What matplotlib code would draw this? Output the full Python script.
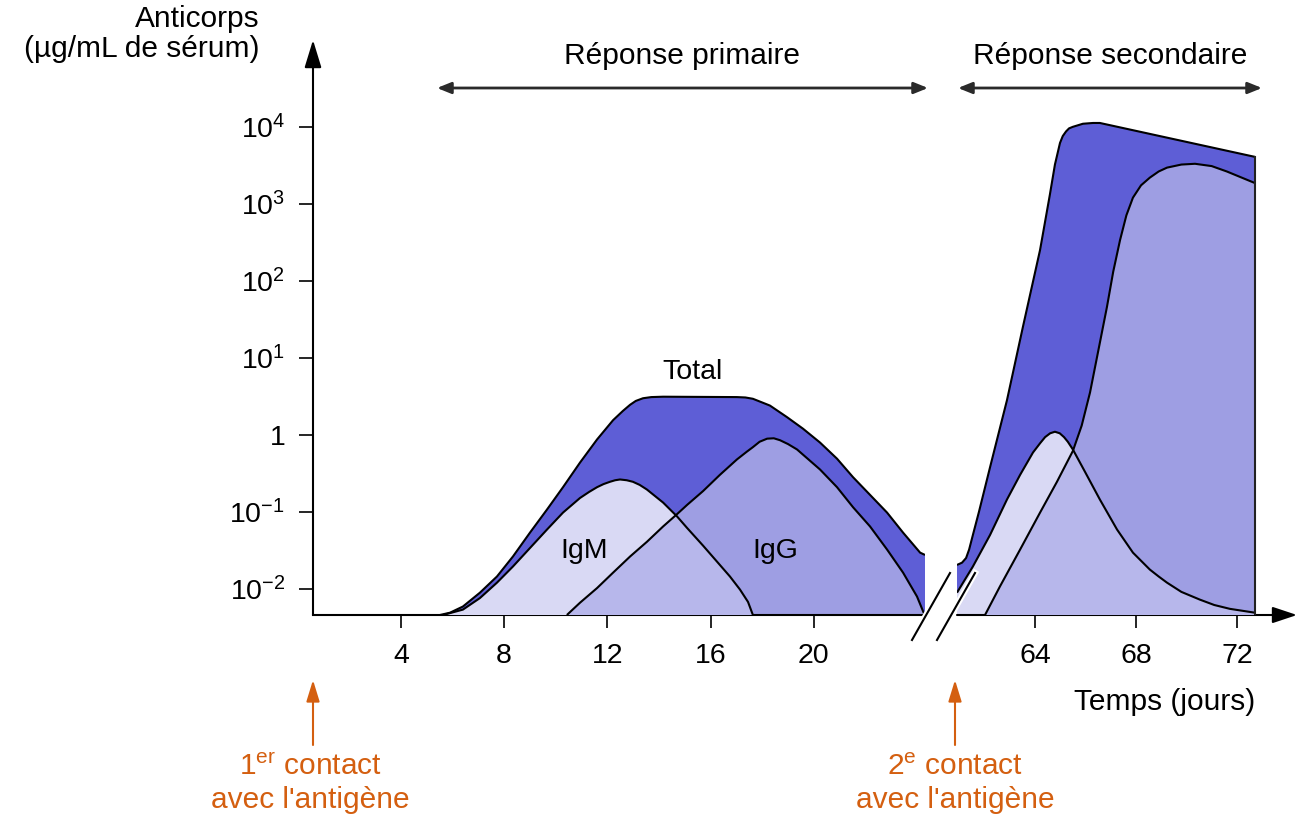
import numpy as np
import matplotlib
matplotlib.use("Agg")
import matplotlib.pyplot as plt
import matplotlib.ticker as mticker
from matplotlib.patches import FancyArrowPatch
from matplotlib.lines import Line2D

plt.rcParams['font.family'] = ['Liberation Sans', 'DejaVu Sans']
plt.rcParams['mathtext.fontset'] = 'custom'
plt.rcParams['mathtext.rm'] = 'Liberation Sans'
plt.rcParams['mathtext.it'] = 'Liberation Sans:italic'
plt.rcParams['mathtext.bf'] = 'Liberation Sans:bold'

# ---------------- data (day, log10 of µg/mL) ----------------
# primary response
prim_total_day = [5.51, 5.90, 6.40, 7.06, 7.72, 8.34, 9.00, 9.66, 10.28, 10.94, 11.60, 12.22,
                  12.60, 12.88, 13.10, 13.38, 13.70, 14.16, 17.02, 17.35, 17.64, 18.03, 18.30,
                  18.96, 19.58, 20.24, 20.90, 21.52, 22.18, 22.84, 23.46, 24.12, 24.31]
prim_total_log = [-2.34, -2.31, -2.23, -2.05, -1.84, -1.58, -1.27, -0.97, -0.68, -0.36, -0.06, 0.19,
                  0.31, 0.39, 0.44, 0.475, 0.49, 0.495, 0.49, 0.485, 0.468, 0.416, 0.38,
                  0.23, 0.08, -0.10, -0.31, -0.55, -0.78, -1.01, -1.27, -1.53, -1.56]

prim_igm_day = [5.63, 6.40, 7.06, 7.72, 8.34, 9.00, 9.66, 10.28, 10.94, 11.30, 11.60, 11.85, 12.10,
                12.30, 12.49, 12.75, 12.99, 13.25, 13.53, 14.16, 14.70, 15.09, 15.71, 16.36,
                16.75, 17.14, 17.45, 17.64]
prim_igm_log = [-2.34, -2.27, -2.12, -1.92, -1.71, -1.47, -1.23, -1.01, -0.82, -0.74, -0.68, -0.64,
                -0.61, -0.59, -0.58, -0.59, -0.61, -0.65, -0.71, -0.88, -1.06, -1.21, -1.44,
                -1.69, -1.84, -2.01, -2.17, -2.34]

prim_igg_day = [10.43, 10.94, 11.60, 12.22, 12.88, 13.53, 14.16, 14.70, 15.09, 15.71, 16.36, 17.02,
                17.40, 17.64, 17.90, 18.19, 18.45, 18.69, 19.00, 19.35, 20.24, 20.90, 21.52,
                22.18, 22.84, 23.46, 24.00, 24.27]
prim_igg_log = [-2.34, -2.18, -1.99, -1.79, -1.58, -1.39, -1.19, -1.03, -0.91, -0.73, -0.52, -0.32,
                -0.22, -0.16, -0.09, -0.05, -0.045, -0.07, -0.12, -0.19, -0.45, -0.68, -0.94,
                -1.19, -1.49, -1.79, -2.10, -2.32]

# secondary response
sec_total_day = [60.91, 61.11, 61.27, 61.39, 61.54, 61.78, 62.22, 62.89, 63.52, 64.20, 64.59,
                 64.79, 64.99, 65.10, 65.23, 65.35, 65.50, 65.90, 66.30, 66.57, 72.71]
sec_total_log = [-1.69, -1.66, -1.60, -1.49, -1.30, -1.00, -0.42, 0.45, 1.40, 2.40, 3.12,
                 3.51, 3.79, 3.88, 3.94, 3.98, 4.00, 4.04, 4.05, 4.05, 3.61]

sec_igm_day = [60.91, 61.54, 62.22, 62.89, 63.41, 63.92, 64.20, 64.40, 64.60, 64.79, 64.98, 65.15,
               65.30, 65.50, 65.98, 66.57, 67.25, 67.88, 68.55, 68.90, 69.23, 69.80, 70.53,
               71.10, 71.72, 72.71]
sec_igm_log = [-2.05, -1.71, -1.30, -0.84, -0.52, -0.23, -0.11, -0.03, 0.02, 0.04, 0.02, -0.03,
               -0.09, -0.19, -0.48, -0.84, -1.23, -1.53, -1.75, -1.84, -1.92, -2.04, -2.14,
               -2.21, -2.26, -2.31]

sec_igg_day = [62.02, 62.61, 63.41, 64.20, 64.87, 65.50, 65.85, 66.18, 66.50, 66.85, 67.10, 67.37,
               67.62, 67.88, 68.20, 68.55, 68.90, 69.23, 69.80, 70.34, 71.00, 71.60, 72.71]
sec_igg_log = [-2.34, -1.97, -1.49, -1.01, -0.61, -0.21, 0.12, 0.55, 1.08, 1.66, 2.12, 2.53,
               2.85, 3.08, 3.24, 3.34, 3.42, 3.47, 3.51, 3.52, 3.49, 3.42, 3.27]

x_ticks_primary = [4, 8, 12, 16, 20]
x_ticks_secondary = [64, 68, 72]
y_tick_exponents = [-2, -1, 0, 1, 2, 3, 4]
y_tick_labels = [r'$\mathregular{10^{-2}}$', r'$\mathregular{10^{-1}}$', '1',
                 r'$\mathregular{10^{1}}$', r'$\mathregular{10^{2}}$',
                 r'$\mathregular{10^{3}}$', r'$\mathregular{10^{4}}$']

# ---------------- style ----------------
C_TOTAL = '#5E5ED6'
C_IGG = '#9E9EE3'
C_IGM = '#D9D9F4'
C_OVER = '#B7B7EB'
ORANGE = '#D45F10'
FS = 21.5
LW = 1.5

W, H = 1299, 818
fig = plt.figure(figsize=(W / 100, H / 100), dpi=100)


def fx(x):
    return x / W


def fy(y):
    return 1 - y / H


Y_TOP_PX = 40
LOG_BOTTOM = -2.34
LOG_TOP = LOG_BOTTOM + (615 - Y_TOP_PX) / 77.0
BASE = 10 ** LOG_BOTTOM

axL = fig.add_axes([fx(313), fy(615), (925 - 313) / W, (615 - Y_TOP_PX) / H])
axR = fig.add_axes([fx(957), fy(615), (1297 - 957) / W, (615 - Y_TOP_PX) / H])

for ax in (axL, axR):
    ax.set_yscale('log')
    ax.set_ylim(10 ** LOG_BOTTOM, 10 ** LOG_TOP)
    ax.patch.set_alpha(0)
    for s in ('top', 'right', 'left'):
        ax.spines[s].set_visible(False)
    ax.yaxis.set_minor_locator(mticker.NullLocator())
    ax.xaxis.set_minor_locator(mticker.NullLocator())
    ax.tick_params(axis='x', direction='out', length=9.5, width=1.2, labelsize=FS - 1, pad=11)

axL.set_xlim(0.59, 24.31)
axR.set_xlim(60.91, 74.38)
axL.spines['bottom'].set_linewidth(LW)
axR.spines['bottom'].set_visible(False)

axL.set_xticks(x_ticks_primary)
axR.set_xticks(x_ticks_secondary)
axL.set_yticks([10.0 ** e for e in y_tick_exponents])
axL.set_yticklabels(y_tick_labels)
axL.tick_params(axis='y', direction='out', length=10, width=1.2, labelsize=FS - 1, pad=10)
axR.tick_params(axis='y', left=False, labelleft=False)


def area(ax, d, v, color, z):
    d = np.asarray(d, float)
    yv = 10.0 ** np.asarray(v, float)
    xs = np.concatenate([d, [d[-1], d[0]]])
    ys = np.concatenate([yv, [BASE, BASE]])
    return ax.fill(xs, ys, color=color, lw=0, zorder=z)[0]


def curve(ax, d, v):
    ax.plot(d, 10.0 ** np.asarray(v, float), color='black', lw=LW, zorder=6,
            solid_joinstyle='round', solid_capstyle='butt')


for ax, (td, tv), (md, mv), (gd, gv) in [
        (axL, (prim_total_day, prim_total_log), (prim_igm_day, prim_igm_log),
         (prim_igg_day, prim_igg_log)),
        (axR, (sec_total_day, sec_total_log), (sec_igm_day, sec_igm_log),
         (sec_igg_day, sec_igg_log))]:
    area(ax, td, tv, C_TOTAL, 1)
    pg = area(ax, gd, gv, C_IGG, 2)
    area(ax, md, mv, C_IGM, 3)
    ov = area(ax, md, mv, C_OVER, 4)
    ov.set_clip_path(pg)
    curve(ax, td, tv)
    curve(ax, gd, gv)
    curve(ax, md, mv)

# right edge of secondary response
axR.plot([sec_total_day[-1], sec_total_day[-1]], [BASE, 10 ** sec_total_log[-1]],
         color='#222222', lw=LW, zorder=6)

# axis arrows
axL.annotate('', xy=(0, 1), xytext=(0, 0), xycoords='axes fraction',
             arrowprops=dict(arrowstyle='-|>,head_length=0.85,head_width=0.26', lw=LW,
                             color='black', shrinkA=0, shrinkB=0, mutation_scale=20),
             annotation_clip=False)
axR.annotate('', xy=(1, 0), xytext=(0, 0), xycoords='axes fraction',
             arrowprops=dict(arrowstyle='-|>,head_length=0.75,head_width=0.25', lw=LW,
                             color='black', shrinkA=0, shrinkB=0, mutation_scale=20),
             annotation_clip=False)

# labels in the plot
axL.text(15.3, 10 ** 0.82, 'Total', fontsize=FS - 1, ha='center', va='center', zorder=7)
axL.text(11.1, 10 ** -1.51, 'IgM', fontsize=FS - 1, ha='center', va='center', zorder=7)
axL.text(18.5, 10 ** -1.51, 'IgG', fontsize=FS - 1, ha='center', va='center', zorder=7)

# figure texts
fig.text(fx(260), fy(19), 'Anticorps', fontsize=FS, ha='right', va='center')
fig.text(fx(260), fy(49), '(µg/mL de sérum)', fontsize=FS, ha='right', va='center')
fig.text(fx(1255), fy(702), 'Temps (jours)', fontsize=FS, ha='right', va='center')
fig.text(fx(682), fy(56), 'Réponse primaire', fontsize=FS, ha='center', va='center')
fig.text(fx(1110), fy(56), 'Réponse secondaire', fontsize=FS, ha='center', va='center')

fig.text(fx(310), fy(767), r'1$^{\mathregular{er}}$ contact', fontsize=FS, ha='center',
         va='center', color=ORANGE)
fig.text(fx(310), fy(800), "avec l'antigène", fontsize=FS, ha='center', va='center', color=ORANGE)
fig.text(fx(955), fy(767), r'2$^{\mathregular{e}}$ contact', fontsize=FS, ha='center',
         va='center', color=ORANGE)
fig.text(fx(955), fy(800), "avec l'antigène", fontsize=FS, ha='center', va='center', color=ORANGE)

# double arrows
for x0, x1 in [(437, 928), (958, 1262)]:
    fig.add_artist(FancyArrowPatch((fx(x0), fy(88)), (fx(x1), fy(88)),
                                   transform=fig.transFigure,
                                   arrowstyle='<|-|>,head_length=0.42,head_width=0.17',
                                   mutation_scale=20, lw=2.0, color='#2a2a2a',
                                   shrinkA=0, shrinkB=0))

# orange arrows
for x in (313, 955):
    fig.add_artist(FancyArrowPatch((fx(x), fy(745)), (fx(x), fy(680)),
                                   transform=fig.transFigure,
                                   arrowstyle='-|>,head_length=0.65,head_width=0.2',
                                   mutation_scale=20, lw=1.5, color=ORANGE,
                                   shrinkA=0, shrinkB=0))

# break marks
for (xa, ya, xb, yb) in [(912, 640, 950, 573), (937, 640, 975, 573)]:
    fig.add_artist(Line2D([fx(xa), fx(xb)], [fy(ya), fy(yb)], transform=fig.transFigure,
                          color='white', lw=4.5, zorder=9))
    fig.add_artist(Line2D([fx(xa), fx(xb)], [fy(ya), fy(yb)], transform=fig.transFigure,
                          color='black', lw=1.5, zorder=10))

fig.savefig('out.png', dpi=100)
